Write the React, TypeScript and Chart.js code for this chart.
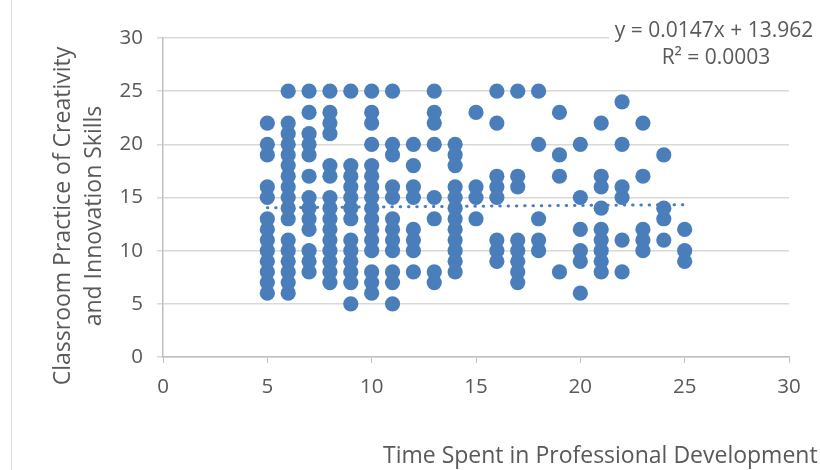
import React, { useEffect, useRef } from 'react';
import { Chart, registerables } from 'chart.js';

Chart.register(...registerables);

// Time spent (x) and the practice scores observed at each time value (y)
const timeSpent = [5, 6, 7, 8, 9, 10, 11, 12, 13, 14, 15, 16, 17, 18, 19, 20, 21, 22, 23, 24, 25];
const practiceScores = [
  [22, 20, 19, 16, 15, 13, 12, 11, 10, 9, 8, 7, 6],
  [25, 22, 21, 20, 19, 18, 17, 16, 15, 14, 13, 11, 10, 9, 8, 7, 6],
  [25, 23, 21, 20, 19, 17, 15, 14, 13, 12, 10, 9, 8],
  [25, 23, 22, 21, 18, 17, 15, 14, 13, 12, 11, 10, 9, 8, 7],
  [25, 18, 17, 16, 15, 14, 13, 11, 10, 9, 8, 7, 5],
  [25, 23, 22, 20, 18, 17, 16, 15, 14, 13, 12, 11, 10, 8, 7, 6],
  [25, 20, 19, 16, 15, 13, 12, 11, 10, 8, 7, 5],
  [20, 18, 16, 15, 12, 11, 10, 8],
  [25, 23, 22, 20, 15, 13, 8, 7],
  [20, 19, 18, 16, 15, 14, 13, 12, 11, 10, 9, 8],
  [23, 16, 15, 13],
  [25, 22, 17, 16, 15, 11, 10, 9],
  [25, 17, 16, 11, 10, 9, 8, 7],
  [25, 20, 13, 11, 10],
  [23, 19, 17, 8],
  [20, 15, 12, 10, 9, 6],
  [22, 17, 16, 14, 12, 11, 10, 9, 8],
  [24, 20, 16, 15, 11, 8],
  [22, 17, 12, 11, 10],
  [19, 14, 13, 11],
  [12, 10, 9],
];

// Linear trendline endpoints (y = 0.0147x + 13.962)
const trendX = [5, 25];
const trendY = [14.036, 14.330];

const xTickValues = [0, 5, 10, 15, 20, 25, 30];
const yTickValues = [0, 5, 10, 15, 20, 25, 30];

const equationText = ['y = 0.0147x + 13.962', 'R\u00B2 = 0.0003'];
const xTitleText = 'Time Spent in Professional Development';
const yTitleText = ['Classroom Practice of Creativity', 'and Innovation Skills'];

const FONT = "'Open Sans', 'Liberation Sans', sans-serif";
const TEXT = '#595959';
const BLUE = '#4A7EBB';

const annotations = {
  id: 'annotations',
  afterDraw(chart: any) {
    const ctx = chart.ctx as CanvasRenderingContext2D;
    ctx.save();
    // outer chart border (left edge)
    ctx.strokeStyle = '#d9d9d9';
    ctx.lineWidth = 1;
    ctx.beginPath();
    ctx.moveTo(11.5, 0);
    ctx.lineTo(11.5, 470);
    ctx.stroke();

    // equation label with white background
    ctx.fillStyle = '#ffffff';
    ctx.fillRect(609, 16, 211, 56);
    ctx.fillStyle = TEXT;
    ctx.font = `21px ${FONT}`;
    ctx.textAlign = 'center';
    ctx.textBaseline = 'middle';
    ctx.fillText(equationText[0], 714, 31);
    ctx.fillText(equationText[1], 716, 58);

    // x title
    ctx.font = `23px ${FONT}`;
    ctx.textAlign = 'left';
    ctx.fillText(xTitleText, 383, 456);

    // y title
    ctx.translate(78, 216);
    ctx.rotate(-Math.PI / 2);
    ctx.textAlign = 'center';
    ctx.fillText(yTitleText[0], 0, -15);
    ctx.fillText(yTitleText[1], 0, 16);
    ctx.restore();
  },
};

export default function App() {
  const ref = useRef<HTMLCanvasElement | null>(null);

  useEffect(() => {
    if (!ref.current) return;
    const points: { x: number; y: number }[] = [];
    timeSpent.forEach((t, i) => {
      practiceScores[i].forEach((s) => points.push({ x: t, y: s }));
    });
    const trend = trendX.map((x, i) => ({ x, y: trendY[i] }));

    const chart = new Chart(ref.current, {
      type: 'scatter',
      data: {
        datasets: [
          {
            data: points,
            backgroundColor: BLUE,
            borderWidth: 0,
            pointRadius: 7.6,
            pointHoverRadius: 7.6,
          },
          {
            type: 'line',
            data: trend,
            borderColor: BLUE,
            borderWidth: 3,
            borderDash: [0.5, 7.8],
            borderCapStyle: 'round',
            pointRadius: 0,
            showLine: true,
            fill: false,
          } as any,
        ],
      },
      options: {
        animation: false,
        responsive: false,
        maintainAspectRatio: false,
        layout: { padding: { left: 0, right: 31, top: 38, bottom: 0 } },
        plugins: {
          legend: { display: false },
          tooltip: { enabled: false },
        },
        scales: {
          x: {
            type: 'linear',
            min: 0,
            max: 30,
            afterFit(scale: any) {
              scale.height = 113;
            },
            afterBuildTicks(scale: any) {
              scale.ticks = xTickValues.map((v) => ({ value: v }));
            },
            grid: {
              drawOnChartArea: false,
              drawTicks: true,
              tickLength: 6,
              color: '#bfbfbf',
            },
            border: { display: true, color: '#bfbfbf', width: 1.5 },
            ticks: {
              color: TEXT,
              font: { family: FONT, size: 20.5 },
              padding: 12,
              maxRotation: 0,
            },
          },
          y: {
            type: 'linear',
            min: 0,
            max: 30,
            afterFit(scale: any) {
              scale.width = 163;
            },
            afterBuildTicks(scale: any) {
              scale.ticks = yTickValues.map((v) => ({ value: v }));
            },
            grid: {
              drawTicks: true,
              tickLength: 6,
              color: '#d9d9d9',
              lineWidth: 1.5,
            },
            border: { display: true, color: '#bfbfbf', width: 1.5 },
            ticks: {
              color: TEXT,
              font: { family: FONT, size: 20.5 },
              padding: 14,
            },
          },
        },
      },
      plugins: [annotations],
    });
    return () => chart.destroy();
  }, []);

  return (
    <div style={{ position: 'fixed', left: 0, top: 0, width: 820, height: 470, background: '#fff' }}>
      <canvas ref={ref} width={820} height={470} style={{ width: 820, height: 470, display: 'block' }} />
    </div>
  );
}
